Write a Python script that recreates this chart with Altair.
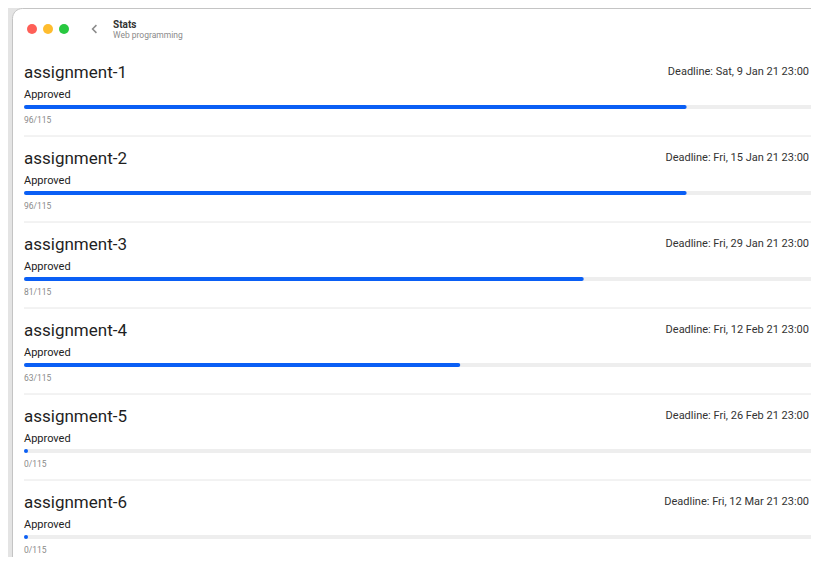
import altair as alt
import pandas as pd

# ---- data ----
assignments = ["assignment-1", "assignment-2", "assignment-3",
               "assignment-4", "assignment-5", "assignment-6"]
deadlines = ["Deadline: Sat, 9 Jan 21 23:00", "Deadline: Fri, 15 Jan 21 23:00",
             "Deadline: Fri, 29 Jan 21 23:00", "Deadline: Fri, 12 Feb 21 23:00",
             "Deadline: Fri, 26 Feb 21 23:00", "Deadline: Fri, 12 Mar 21 23:00"]
approved = [96, 96, 81, 63, 0, 0]
total = [115, 115, 115, 115, 115, 115]
status = ["Approved"] * 6
app_title = "Stats"
app_subtitle = "Web programming"

df = pd.DataFrame({
    "row": list(range(len(assignments))),
    "name": assignments,
    "deadline": deadlines,
    "approved": approved,
    "total": total,
    "status": status,
    "start": [0] * len(assignments),
})
df["count"] = df["approved"].astype(str) + "/" + df["total"].astype(str)

BLUE = "#0a5ff5"
FONT = "Roboto"
W, H = 803, 549

xs = alt.Scale(domain=[0, 115], range=[18, 807])
ys = alt.Scale(domain=[0, 5], range=[70, 500])
X0 = alt.X("start:Q", scale=xs, axis=None)
Y = alt.Y("row:Q", scale=ys, axis=None)
TX = alt.value(16)

one = pd.DataFrame({"k": [0]})

# window frame (decoration)
window = alt.Chart(one).mark_rect(
    fill="white", stroke="#c4c4c4", strokeWidth=1, cornerRadius=10
).encode(x=alt.value(4.5), x2=alt.value(900), y=alt.value(0.5), y2=alt.value(700))

lights = pd.DataFrame({"c": ["#fe5f57", "#febc2e", "#28c840"], "px": [24, 40, 56]})
dots = alt.Chart(lights).mark_circle(size=100, opacity=1).encode(
    x=alt.X("px:Q", scale=None), y=alt.value(21), color=alt.Color("c:N", scale=None)
)
chevron = alt.Chart(one).mark_point(
    shape="M 0.5 -1 L -0.5 0 L 0.5 1", filled=False, stroke="#5a5a5a",
    strokeWidth=1.5, size=60
).encode(x=alt.value(86.5), y=alt.value(21))
hdr = pd.DataFrame({"t": [app_title], "s": [app_subtitle]})
title_t = alt.Chart(hdr).mark_text(
    align="left", baseline="alphabetic", font=FONT, fontSize=10, fontWeight="bold", color="#333333"
).encode(x=alt.value(105), y=alt.value(19.5), text="t:N")
sub_t = alt.Chart(hdr).mark_text(
    align="left", baseline="alphabetic", font=FONT, fontSize=8.5, color="#8a8a8a"
).encode(x=alt.value(105), y=alt.value(29.5), text="s:N")

base = alt.Chart(df)

sep = base.transform_filter("datum.row < 5").mark_rule(
    color="#e6e6e6", strokeWidth=1, yOffset=58
).encode(x=alt.value(16), x2=alt.value(W), y=Y)

track = base.mark_rule(color="#eeeeee", strokeWidth=4, strokeCap="round", yOffset=29).encode(
    x=X0, x2="total:Q", y=Y
)
prog = base.mark_rule(color=BLUE, strokeWidth=4, strokeCap="round", yOffset=29).encode(
    x=X0, x2="approved:Q", y=Y
)
name_t = base.mark_text(align="left", baseline="alphabetic", font=FONT, fontSize=17,
                        color="#1f1f1f").encode(x=TX, y=Y, text="name:N")
dead_t = base.mark_text(align="right", baseline="alphabetic", font=FONT, fontSize=11,
                        color="#333333", dy=-3).encode(x=alt.value(801), y=Y, text="deadline:N")
stat_t = base.mark_text(align="left", baseline="alphabetic", font=FONT, fontSize=11,
                        color="#222222", dy=20).encode(x=TX, y=Y, text="status:N")
cnt_t = base.mark_text(align="left", baseline="alphabetic", font=FONT, fontSize=8.5,
                       color="#8a8a8a", dy=45).encode(x=TX, y=Y, text="count:N")

chart = alt.layer(
    window, dots, chevron, title_t, sub_t, sep, track, prog, name_t, dead_t, stat_t, cnt_t
).properties(
    width=W, height=H, background="#e4e4e4", padding=0,
    autosize=alt.AutoSizeParams(type="none")
).configure_view(stroke=None)

chart.save("out.html", embed_options={"renderer": "svg", "actions": False})
